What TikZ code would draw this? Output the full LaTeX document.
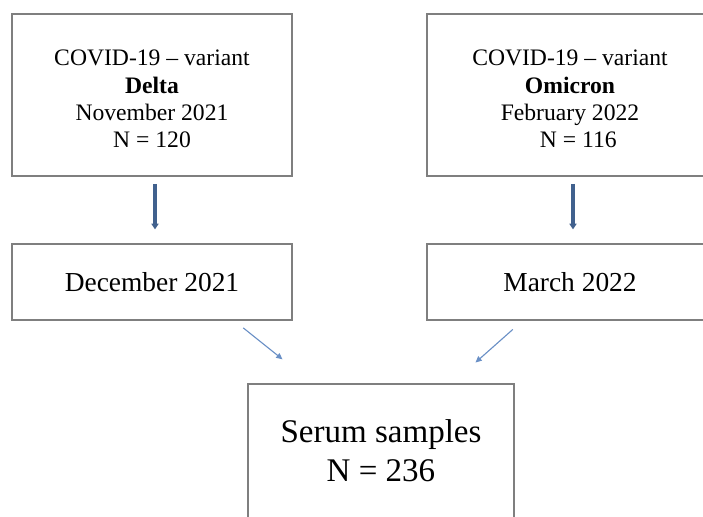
\documentclass[tikz,border=0pt]{standalone}
\usepackage{fontspec}
\setmainfont{Liberation Serif}
\usetikzlibrary{arrows.meta}
\definecolor{boxgray}{HTML}{7F7F7F}
\definecolor{darrow}{HTML}{41618E}
\definecolor{larrow}{HTML}{6A90C6}
\begin{document}
\begin{tikzpicture}[x=0.025cm, y=-0.025cm]
\tikzstyle{box} = [draw=boxgray, line width=0.9pt, align=center, inner sep=0pt]
\tikzstyle{vline} = [draw=darrow, line width=2.8pt, -{Triangle[width=5pt,length=4pt]}]
\tikzstyle{dline} = [draw=larrow, line width=0.8pt, -{Triangle[width=4pt,length=4.5pt]}]
\useasboundingbox (0,0) rectangle (703,516);
\clip (0,0) rectangle (703,516);

\node[box, minimum width=7cm, minimum height=4.05cm,
	font=\fontsize{16.8}{19.5}\selectfont] (delta) at (152,95)
	{\rule{0pt}{17pt}COVID-19 -- variant\\ \textbf{Delta}\\ November 2021\\ N = 120};
\node[box, minimum width=7.15cm, minimum height=4.05cm,
	font=\fontsize{16.8}{19.5}\selectfont] (omicron) at (570,95)
	{\rule{0pt}{17pt}COVID-19 -- variant\\ \textbf{Omicron}\\ February 2022\\ \hspace{0.7em}N = 116};

\node[box, minimum width=7cm, minimum height=1.9cm,
	font=\fontsize{19.5}{22}\selectfont] (dec) at (152,282) {December 2021};
\node[box, minimum width=7.15cm, minimum height=1.9cm,
	font=\fontsize{19.5}{22}\selectfont] (mar) at (570,282) {March 2022};

\node[box, minimum width=6.65cm, minimum height=3.35cm,
	font=\fontsize{23.5}{27.5}\selectfont] (serum) at (381,451)
	{Serum samples\\ N = 236};

\draw[vline, shorten <=0.18cm, shorten >=0.35cm]
	([xshift=0.075cm]delta.south) -- ([xshift=0.075cm]dec.north);
\draw[vline, shorten <=0.18cm, shorten >=0.35cm]
	([xshift=0.075cm]omicron.south) -- ([xshift=0.075cm]mar.north);
\draw[dline] ([xshift=2.28cm, yshift=-0.18cm]dec.south)
	-- ([xshift=0.88cm, yshift=0.6cm]serum.north west);
\draw[dline] ([xshift=-1.43cm, yshift=-0.22cm]mar.south)
	-- ([xshift=-0.98cm, yshift=0.52cm]serum.north east);
\end{tikzpicture}
\end{document}
